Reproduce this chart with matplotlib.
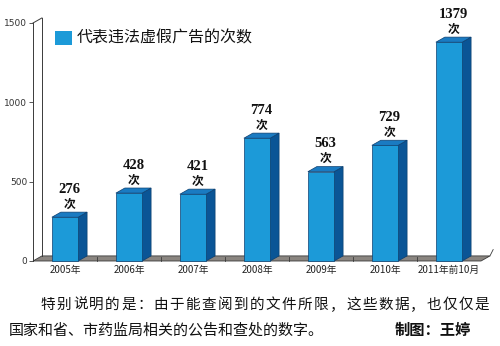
import matplotlib
matplotlib.use("Agg")
import matplotlib.pyplot as plt
from matplotlib.patches import Rectangle, Polygon

years = ["2005年", "2006年", "2007年", "2008年", "2009年", "2010年", "2011年前10月"]
counts = [276, 428, 421, 774, 563, 729, 1379]
yticks = [0, 500, 1000, 1500]
legend_label = "代表违法虚假广告的次数"
note_1 = "特别说明的是：由于能查阅到的文件所限，这些数据，也仅仅是"
note_2 = "国家和省、市药监局相关的公告和查处的数字。"
credit = "制图：王婷"

CJK = ["Noto Sans CJK SC", "DejaVu Sans"]
NUM = ["Liberation Serif", "Noto Sans CJK SC"]
FRONT, SIDE, TOP, EDGE = "#1c9ad8", "#0a5596", "#1a7bc2", "#0c3f70"

W, H = 500, 346
fig = plt.figure(figsize=(W / 100, H / 100), dpi=100)
fig.patch.set_facecolor("white")

# axes box in pixels: left 33, right 481, y=0 at 261, y=1500 at 23
ax = fig.add_axes([33 / W, (H - 261) / H, 448 / W, 238 / H])
ax.set_xlim(-0.5, 6.5)
ax.set_ylim(0, 1500)
ax.patch.set_alpha(0)

dx, dy = 0.14, 32   # depth offset for the pseudo-3D look
bw = 0.41

# floor
ax.add_patch(Polygon([(-0.5, 0), (6.5, 0), (6.5 + dx, dy), (-0.5 + dx, dy)],
                     closed=True, facecolor="#8a8580", edgecolor="#3a3a3a",
                     linewidth=0.6, clip_on=False, zorder=1))
for b in [i + 0.5 for i in range(6)]:
    ax.plot([b, b], [0, dy * 0.8], color="#3a3a3a", lw=0.6, clip_on=False, zorder=2)
ax.plot([6.5 + dx, 6.5 + dx + 0.05], [dy, dy + 40], color="#3a3a3a", lw=0.6,
        clip_on=False, zorder=2)

# back wall edge
ax.plot([-0.5 + dx, -0.5 + dx], [dy, 1500 + dy], color="#3a3a3a", lw=0.7,
        clip_on=False, zorder=1)
ax.plot([-0.5, -0.5 + dx], [1500, 1500 + dy], color="#3a3a3a", lw=0.7,
        clip_on=False, zorder=1)

for i, v in enumerate(counts):
    x0, x1 = i - bw / 2, i + bw / 2
    ax.add_patch(Polygon([(x1, 0), (x1 + dx, dy), (x1 + dx, v + dy), (x1, v)],
                         closed=True, facecolor=SIDE, edgecolor=EDGE, lw=0.5,
                         clip_on=False, zorder=3))
    ax.add_patch(Polygon([(x0, v), (x0 + dx, v + dy), (x1 + dx, v + dy), (x1, v)],
                         closed=True, facecolor=TOP, edgecolor=EDGE, lw=0.5,
                         clip_on=False, zorder=3))
    ax.add_patch(Rectangle((x0, 0), bw, v, facecolor=FRONT, edgecolor=EDGE,
                           lw=0.5, clip_on=False, zorder=4))
    ax.annotate(str(v), xy=(i + dx / 2, v), xytext=(0, 20),
                textcoords="offset points", ha="center", va="center",
                fontsize=10.5, fontweight="bold", family=NUM, color="#111111")
    ax.annotate("次", xy=(i + dx / 2, v), xytext=(0, 9.5),
                textcoords="offset points", ha="center", va="center",
                fontsize=8.5, fontweight="bold", family=CJK, color="#111111")

for s in ["top", "right", "bottom"]:
    ax.spines[s].set_visible(False)
ax.spines["left"].set_color("#3a3a3a")
ax.spines["left"].set_linewidth(0.7)
ax.set_yticks(yticks)
ax.set_yticklabels([str(t) for t in yticks], fontsize=6.5, color="#333333",
                   family="DejaVu Sans")
ax.tick_params(axis="y", length=3, width=0.6, color="#3a3a3a", pad=1)
ax.set_xticks(range(len(years)))
ax.set_xticklabels(years, fontsize=7, family=CJK, color="#222222")
ax.tick_params(axis="x", length=0, pad=3)

# legend
fig.patches.append(Rectangle((55 / W, 1 - 45 / H), 17 / W, 14 / H,
                             transform=fig.transFigure, facecolor=FRONT,
                             edgecolor="none"))
fig.text(77 / W, 1 - 38 / H, legend_label, fontsize=11.5, family=CJK,
         va="center", ha="left", color="#111111")

# footnote: first line is justified across the width
x_start, x_end = 40, 490
step = (x_end - x_start) / len(note_1)
for k, ch in enumerate(note_1):
    fig.text((x_start + step * (k + 0.5)) / W, 1 - 305 / H, ch, fontsize=10.5,
             family=CJK, va="center", ha="center", color="#111111")
fig.text(9 / W, 1 - 330 / H, note_2, fontsize=10.8, family=CJK,
         va="center", ha="left", color="#111111")
fig.text(395 / W, 1 - 330 / H, credit, fontsize=11, family=CJK,
         fontweight="bold", va="center", ha="left", color="#111111")

fig.savefig("out.png", dpi=100)
